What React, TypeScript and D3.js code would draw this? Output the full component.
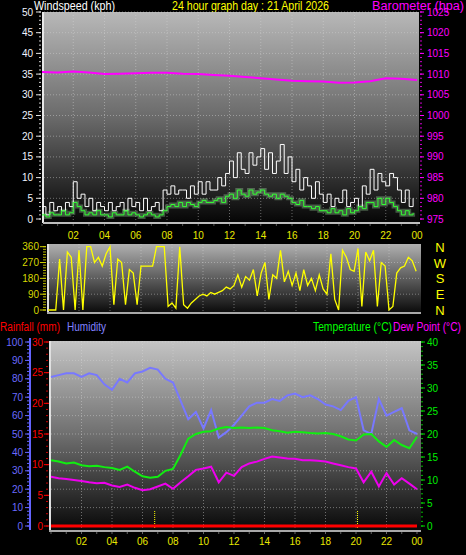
import React from "react";
import * as d3 from "d3";

// ---------- DATA ----------
const hourLabels = ["02", "04", "06", "08", "10", "12", "14", "16", "18", "20", "22", "00"];
const hourTicks = [2, 4, 6, 8, 10, 12, 14, 16, 18, 20, 22, 24];

// wind (kph), 15-minute samples from 00:00
const windGust = [
  3, 1, 4, 2, 3, 2, 4, 3, 9, 5, 6, 3, 5, 2, 4, 3, 2, 4, 2, 3, 4, 2, 5, 3,
  4, 2, 5, 2, 3, 4, 2, 7, 6, 8, 6, 7, 7, 5, 8, 6, 9, 6, 9, 7, 7, 10, 8, 11,
  14, 10, 16, 12, 11, 16, 13, 15, 17, 12, 16, 11, 14, 18, 11, 15, 9, 12, 7, 10, 8, 5, 9, 6,
  4, 6, 3, 5, 4, 7, 3, 4, 5, 3, 8, 6, 12, 7, 11, 9, 8, 11, 10, 7, 4, 7, 3, 5,
];
const windAvg = [
  1, 0.5, 1.5, 1, 1, 2, 1, 1.5, 4, 3, 2, 1, 1.5, 1, 2, 1, 1, 0.5, 1.5, 1, 1, 2, 1, 1.5,
  1, 0.5, 1, 1.5, 1, 0.5, 1, 2, 3, 3.5, 3, 4, 3, 4, 3.5, 3, 4, 4.5, 4, 4, 4.5, 5, 4, 5.5,
  6, 5, 7, 6, 5.5, 7, 6, 6.5, 7, 6, 5.5, 6, 5, 6, 5.5, 5, 4, 3.5, 4.5, 3, 3, 2.5, 3, 2,
  2, 1.5, 2.5, 1.5, 2, 1, 2.5, 1.5, 2, 3, 2.5, 4, 4, 3, 5, 3.5, 5, 4, 3, 2, 1, 2, 1, 1.5,
];
// barometer (hPa), hourly
const pressure = [
  1010.5, 1010.4, 1010.6, 1010.4, 1010.0, 1010.1, 1010.2, 1010.3, 1010.3, 1010.1, 1010.0, 1009.8,
  1009.6, 1009.3, 1009.0, 1008.7, 1008.4, 1008.3, 1008.2, 1007.9, 1008.0, 1008.3, 1009.0, 1008.9, 1008.6,
];
// wind direction (deg), 15-minute samples
const windDir = [
  0, 0, 0, 290, 0, 330, 300, 0, 340, 0, 360, 360, 270, 300, 250, 320, 360, 30, 290, 270, 30, 230, 210, 30,
  250, 250, 250, 250, 360, 360, 360, 20, 40, 10, 360, 30, 10, 40, 60, 80, 90, 80, 100, 90, 100, 110, 130, 120,
  140, 200, 130, 190, 170, 230, 80, 210, 270, 60, 200, 180, 340, 160, 220, 140, 210, 110, 230, 140, 180, 110, 200, 120,
  90, 320, 60, 0, 340, 300, 230, 220, 350, 20, 330, 280, 340, 20, 270, 250, 0, 20, 210, 240, 250, 300, 280, 220,
];
// 30-minute samples
const humidity = [
  81, 82, 83, 83, 81, 83, 82, 77, 74, 80, 78, 83, 84, 86, 85, 80, 78, 68, 58, 62, 53, 63, 48, 51, 55,
  60, 65, 67, 67, 69, 68, 71, 72, 70, 71, 69, 66, 65, 63, 68, 70, 52, 50, 69, 60, 62, 64, 52, 50,
];
const temperature = [
  14.3, 14.0, 13.6, 13.8, 13.2, 13.0, 13.1, 12.8, 12.6, 12.2, 12.9, 11.8, 10.8, 10.5, 10.7, 12.0, 12.4,
  15.5, 19.0, 20.0, 20.5, 20.6, 21.2, 21.5, 21.3, 21.4, 21.3, 21.4, 21.3, 20.8, 20.6, 20.3, 20.5, 20.4,
  20.2, 20.1, 20.2, 20.0, 19.5, 18.8, 18.6, 19.9, 20.0, 18.4, 17.2, 18.7, 17.6, 16.9, 19.4,
];
const dewPoint = [
  10.7, 10.4, 10.2, 10.0, 9.8, 9.5, 9.3, 9.4, 8.8, 8.5, 9.0, 8.3, 7.8, 8.0, 8.6, 9.2, 8.1,
  9.5, 10.8, 12.2, 12.5, 12.9, 9.5, 11.6, 10.9, 12.8, 13.6, 14.0, 14.6, 15.1, 14.9, 14.7, 14.6, 14.3,
  14.3, 14.2, 14.0, 13.6, 13.2, 12.8, 12.5, 9.5, 11.8, 8.6, 11.5, 9.0, 10.4, 9.2, 8.0,
];
const rainfall = [0, 0];
const sunMarks = [6.8, 20.1];

const windTicks = [0, 5, 10, 15, 20, 25, 30, 35, 40, 45, 50];
const presTicks = [975, 980, 985, 990, 995, 1000, 1005, 1010, 1015, 1020, 1025];
const dirTicks = [0, 90, 180, 270, 360];
const dirLetters = ["N", "E", "S", "W", "N"];
const humTicks = [0, 10, 20, 30, 40, 50, 60, 70, 80, 90, 100];
const rainTicks = [0, 5, 10, 15, 20, 25, 30];
const tempTicks = [0, 5, 10, 15, 20, 25, 30, 35, 40];

// ---------- SCALES ----------
const xTop = d3.scaleLinear().domain([0, 24]).range([42, 417]);
const xMid = d3.scaleLinear().domain([0, 24]).range([48, 420]);
const xBot = d3.scaleLinear().domain([0, 24]).range([51, 417]);
const windY = d3.scaleLinear().domain([0, 50]).range([219, 12]);
const presY = d3.scaleLinear().domain([975, 1025]).range([219, 12]);
const dirY = d3.scaleLinear().domain([0, 360]).range([310, 246.7]);
const tempY = d3.scaleLinear().domain([0, 40]).range([526, 342]);
const humY = d3.scaleLinear().domain([0, 100]).range([526, 342]);
const rainY = d3.scaleLinear().domain([0, 30]).range([526, 342]);

const FONT = "'Liberation Sans', Arial, sans-serif";

function series(vals: number[], step: number, x: d3.ScaleLinear<number, number>, y: d3.ScaleLinear<number, number>, curve = d3.curveLinear) {
  return d3
    .line<number>()
    .x((_, i) => x(i * step))
    .y((v) => y(v))
    .curve(curve)(vals) as string;
}

const GRID = { stroke: "#d8d8d8", strokeOpacity: 0.45, strokeDasharray: "1,2", strokeWidth: 1 };

function Label(props: { x: number; y: number; fill: string; w: number; children: string }) {
  return (
    <text x={props.x} y={props.y} fill={props.fill} fontSize={12} textLength={props.w} lengthAdjust="spacingAndGlyphs">
      {props.children}
    </text>
  );
}

export default function App() {
  const minorWind = d3.range(0, 51, 1);
  const minorTemp = d3.range(0, 41, 1);
  const minorRain = d3.range(0, 31, 1);
  const minorHum = d3.range(0, 101, 2);
  const minorDir = d3.range(0, 361, 15);
  const hours = d3.range(0, 25, 1);

  return (
    <svg width={466} height={555} style={{ position: "absolute", left: 0, top: 0, background: "#000" }} fontFamily={FONT}>
      <defs>
        <linearGradient id="gTop" x1="0" y1="0" x2="0" y2="1">
          <stop offset="0" stopColor="#b8b8b8" />
          <stop offset="0.5" stopColor="#6a6a6a" />
          <stop offset="1" stopColor="#050505" />
        </linearGradient>
        <linearGradient id="gMid" x1="0" y1="0" x2="0" y2="1">
          <stop offset="0" stopColor="#b0b0b0" />
          <stop offset="1" stopColor="#0a0a0a" />
        </linearGradient>
        <linearGradient id="gBot" x1="0" y1="0" x2="0" y2="1">
          <stop offset="0" stopColor="#c4c4c4" />
          <stop offset="0.5" stopColor="#6e6e6e" />
          <stop offset="1" stopColor="#080808" />
        </linearGradient>
      </defs>
      <rect x={0} y={0} width={466} height={555} fill="#000" />

      {/* ---------- TITLES ---------- */}
      <Label x={34} y={10} fill="#ffffff" w={81}>Windspeed (kph)</Label>
      <Label x={172} y={10} fill="#ffff00" w={157}>24 hour graph day : 21 April 2026</Label>
      <Label x={372} y={10} fill="#ff00ff" w={92}>Barometer (hpa)</Label>

      {/* ---------- TOP PANEL ---------- */}
      <rect x={43} y={12} width={376} height={211} fill="url(#gTop)" />
      {windTicks.slice(1).map((t) => (
        <line key={"wg" + t} x1={44} x2={419} y1={windY(t)} y2={windY(t)} {...GRID} />
      ))}
      {hourTicks.slice(0, 11).map((h) => (
        <line key={"vg" + h} x1={xTop(h)} x2={xTop(h)} y1={12} y2={222} {...GRID} />
      ))}
      <line x1={43} x2={43} y1={12} y2={223} stroke="#e8e8e8" strokeWidth={2} />
      <line x1={43} x2={420} y1={223} y2={223} stroke="#bdbdbd" strokeWidth={2} />
      {hours.map((h) => (
        <line key={"th" + h} x1={xTop(h)} x2={xTop(h)} y1={224} y2={226} stroke="#555" />
      ))}
      <path d={series(pressure, 1, xTop, presY)} fill="none" stroke="#ff00ff" strokeWidth={2} />
      <path d={series(windAvg, 0.25, xTop, windY, d3.curveStepAfter)} fill="none" stroke="#b8ffb8" strokeOpacity={0.3} strokeWidth={4} />
      <path d={series(windGust, 0.25, xTop, windY, d3.curveStepAfter)} fill="none" stroke="#ffffff" strokeWidth={1} />
      <path d={series(windAvg, 0.25, xTop, windY, d3.curveStepAfter)} fill="none" stroke="#33ff33" strokeWidth={1} />

      {/* left wind axis */}
      {minorWind.map((t) => (
        <line key={"wm" + t} x1={39} x2={41} y1={windY(t)} y2={windY(t)} stroke="#cfcfcf" />
      ))}
      {windTicks.map((t) => (
        <g key={"wt" + t}>
          <line x1={36} x2={41} y1={windY(t)} y2={windY(t)} stroke="#e0e0e0" />
          <text x={33} y={windY(t) + 3.5} fill="#f0f4ff" fontSize={10} textAnchor="end">{t}</text>
        </g>
      ))}
      {/* right pressure axis */}
      {d3.range(975, 1026, 1).map((t) => (
        <line key={"pm" + t} x1={420} x2={422} y1={presY(t)} y2={presY(t)} stroke="#d000d0" />
      ))}
      {presTicks.map((t) => (
        <g key={"pt" + t}>
          <line x1={420} x2={424} y1={presY(t)} y2={presY(t)} stroke="#ff00ff" />
          <text x={427} y={presY(t) + 3.5} fill="#ff00ff" fontSize={10}>{t}</text>
        </g>
      ))}
      {hourTicks.map((h, i) => (
        <text key={"xl" + h} x={xTop(h)} y={239} fill="#e8e800" fontSize={10} textAnchor="middle">{hourLabels[i]}</text>
      ))}

      {/* ---------- MIDDLE PANEL ---------- */}
      <rect x={48} y={244} width={373} height={69} fill="url(#gMid)" />
      {dirTicks.slice(1, 4).map((t) => (
        <line key={"dg" + t} x1={49} x2={421} y1={dirY(t)} y2={dirY(t)} {...GRID} />
      ))}
      {hourTicks.slice(0, 11).map((h) => (
        <line key={"dv" + h} x1={xMid(h)} x2={xMid(h)} y1={244} y2={312} {...GRID} />
      ))}
      <line x1={48} x2={48} y1={244} y2={313} stroke="#e0e0e0" strokeWidth={2} />
      <line x1={47} x2={421} y1={313} y2={313} stroke="#a8a8a8" strokeWidth={2} />
      <path d={series(windDir, 0.25, xMid, dirY)} fill="none" stroke="#ffff00" strokeWidth={1.3} />
      {minorDir.map((t) => (
        <line key={"dm" + t} x1={43} x2={46} y1={dirY(t)} y2={dirY(t)} stroke="#bcbc00" />
      ))}
      {dirTicks.map((t) => (
        <g key={"dt" + t}>
          <line x1={40} x2={46} y1={dirY(t)} y2={dirY(t)} stroke="#d0d000" />
          <text x={39} y={dirY(t) + 3.5} fill="#d8d800" fontSize={10} textAnchor="end">{t}</text>
        </g>
      ))}
      {dirTicks.map((t, i) => (
        <text key={"dl" + t} x={440} y={dirY(t) + 5} fill="#ffff00" fontSize={13} textAnchor="middle">{dirLetters[i]}</text>
      ))}

      {/* ---------- BOTTOM HEADER ---------- */}
      <Label x={0} y={331} fill="#ff0000" w={60}>Rainfall (mm)</Label>
      <Label x={67} y={331} fill="#8080ff" w={39}>Humidity</Label>
      <Label x={313} y={331} fill="#00ff00" w={79}>Temperature (°C)</Label>
      <Label x={393} y={331} fill="#ff00ff" w={68}>Dew Point (°C)</Label>

      {/* ---------- BOTTOM PANEL ---------- */}
      <rect x={50} y={341} width={371} height={189} fill="url(#gBot)" />
      {humTicks.slice(1).map((t) => (
        <line key={"hg" + t} x1={51} x2={421} y1={humY(t)} y2={humY(t)} {...GRID} />
      ))}
      {hourTicks.slice(0, 11).map((h) => (
        <line key={"bv" + h} x1={xBot(h)} x2={xBot(h)} y1={341} y2={529} {...GRID} />
      ))}
      <line x1={50} x2={50} y1={341} y2={531} stroke="#e0e0e0" strokeWidth={2} />
      <line x1={49} x2={421} y1={531} y2={531} stroke="#a8a8a8" strokeWidth={2} />
      {hours.map((h) => (
        <line key={"bh" + h} x1={xBot(h)} x2={xBot(h)} y1={532} y2={534} stroke="#666" />
      ))}
      {sunMarks.map((h) => (
        <line key={"sm" + h} x1={xBot(h)} x2={xBot(h)} y1={511} y2={528} stroke="#ffff00" strokeDasharray="1,1" />
      ))}
      <path d={series(humidity, 0.5, xBot, humY)} fill="none" stroke="#7878ff" strokeWidth={2} />
      <path d={series(temperature, 0.5, xBot, tempY)} fill="none" stroke="#11ee11" strokeWidth={2} />
      <path d={series(dewPoint, 0.5, xBot, tempY)} fill="none" stroke="#ee00ee" strokeWidth={2} />
      <path d={series(rainfall, 24, xBot, rainY)} fill="none" stroke="#ff0000" strokeWidth={3} />

      {/* humidity axis */}
      <line x1={30} x2={30} y1={338} y2={530} stroke="#6464ff" strokeWidth={2} />
      {minorHum.map((t) => (
        <line key={"hm" + t} x1={27} x2={29} y1={humY(t)} y2={humY(t)} stroke="#6464ff" />
      ))}
      {humTicks.map((t) => (
        <g key={"ht" + t}>
          <line x1={25} x2={29} y1={humY(t)} y2={humY(t)} stroke="#6464ff" />
          <text x={23} y={humY(t) + 3.5} fill="#6a6aff" fontSize={10} textAnchor="end">{t}</text>
        </g>
      ))}
      {/* rainfall axis */}
      {minorRain.map((t) => (
        <line key={"rm" + t} x1={46} x2={48} y1={rainY(t)} y2={rainY(t)} stroke="#cc0000" />
      ))}
      {rainTicks.map((t) => (
        <g key={"rt" + t}>
          <line x1={44} x2={49} y1={rainY(t)} y2={rainY(t)} stroke="#ff0000" />
          <text x={43} y={rainY(t) + 3.5} fill="#ff0000" fontSize={10} textAnchor="end">{t}</text>
        </g>
      ))}
      {/* temperature axis */}
      {minorTemp.map((t) => (
        <line key={"tm" + t} x1={421} x2={423} y1={tempY(t)} y2={tempY(t)} stroke="#00bb00" />
      ))}
      {tempTicks.map((t) => (
        <g key={"tt" + t}>
          <line x1={421} x2={425} y1={tempY(t)} y2={tempY(t)} stroke="#00dd00" />
          <text x={427} y={tempY(t) + 3.5} fill="#00ee00" fontSize={10}>{t}</text>
        </g>
      ))}
      {hourTicks.map((h, i) => (
        <text key={"bl" + h} x={xBot(h)} y={545} fill="#e8e800" fontSize={10} textAnchor="middle">{hourLabels[i]}</text>
      ))}
    </svg>
  );
}
